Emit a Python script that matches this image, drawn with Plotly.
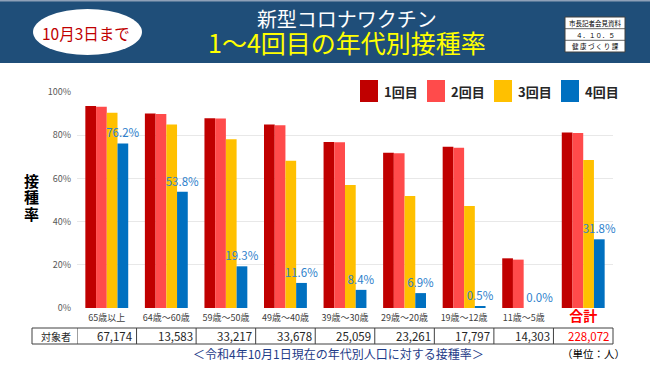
import plotly.graph_objects as go

# ---------------- data ----------------
categories = ["65歳以上", "64歳～60歳", "59歳～50歳", "49歳～40歳", "39歳～30歳",
              "29歳～20歳", "19歳～12歳", "11歳～5歳", "合計"]
series_names = ["1回目", "2回目", "3回目", "4回目"]
dose1 = [93.5, 90.1, 87.8, 84.9, 76.9, 71.9, 74.7, 23.0, 81.3]
dose2 = [93.2, 89.8, 87.7, 84.6, 76.7, 71.6, 74.2, 22.4, 81.0]
dose3 = [90.4, 84.9, 78.1, 68.2, 56.9, 51.9, 47.2, None, 68.5]
dose4 = [76.2, 53.8, 19.3, 11.6, 8.4, 6.9, 0.5, 0.0, 31.8]
population = ["67,174", "13,583", "33,217", "33,678", "25,059", "23,261", "17,797", "14,303", "228,072"]
y_ticks = [0, 20, 40, 60, 80, 100]
y_tick_labels = [f"{v}%" for v in y_ticks]

colors = ["#C00000", "#FF4B4B", "#FFC000", "#0070C0"]
FONT = "Noto Sans CJK JP"

# ---------------- geometry helpers (layout only) ----------------
W, H = 650, 365
L, R, T, B = 77, 37, 92, 57
PW, PH = W - L - R, H - T - B


def px(x):
    return (x - L) / PW


def py(y):
    return (H - B - y) / PH


fig = go.Figure()
values = [dose1, dose2, dose3, dose4]
for i, (name, vals) in enumerate(zip(series_names, values)):
    kw = {}
    if i == 3:
        kw = dict(texttemplate="%{y:.1f}%", textposition="outside", constraintext="none",
                  textfont=dict(color="#2E7FCC", size=11.5, family=FONT),
                  cliponaxis=False)
    fig.add_trace(go.Bar(x=list(range(len(categories))), y=vals, name=name, showlegend=False,
                         marker=dict(color=colors[i], line=dict(width=0)), **kw))

ticktext = [c for c in categories[:-1]] + [
    "<span style='color:#FF0000;font-size:14px;font-weight:bold'>" + categories[-1] + "</span>"]

fig.update_layout(
    width=W, height=H,
    margin=dict(l=L, r=R, t=T, b=B, pad=0),
    paper_bgcolor="white", plot_bgcolor="white",
    barmode="group", bargap=0.28, bargroupgap=0,
    font=dict(family=FONT, color="#404040"),
    showlegend=False,
    xaxis=dict(range=[-0.5, len(categories) - 0.5], tickmode="array",
               tickvals=list(range(len(categories))), ticktext=ticktext,
               tickfont=dict(size=9, color="#404040", family=FONT), ticklabelstandoff=3,
               showgrid=False, zeroline=False, showline=False, ticks=""),
    yaxis=dict(range=[0, 100], tickmode="array", tickvals=y_ticks, ticktext=y_tick_labels,
               tickfont=dict(size=9, color="#595959", family=FONT),
               showgrid=True, gridcolor="#E8E8E8", gridwidth=1,
               zeroline=False, showline=False, ticks="", ticklabelstandoff=5),
)

shapes = []
ann = []


def note(text, x, y, size, color, xref="paper", **extra):
    d = dict(text=text, xref=xref, yref="paper", x=x, y=y, showarrow=False,
             xanchor=extra.pop("xanchor", "center"), yanchor="middle",
             font=dict(size=size, color=color, family=FONT, **extra.pop("font_extra", {})))
    d.update(extra)
    ann.append(d)


# header banner
shapes.append(dict(type="rect", xref="paper", yref="paper", x0=px(0), x1=px(W), y0=py(63), y1=py(0),
                   fillcolor="#1F4E79", line=dict(width=0), layer="below"))
shapes.append(dict(type="rect", xref="paper", yref="paper", x0=px(0), x1=px(W), y0=py(1.5), y1=py(0),
                   fillcolor="#8EA0B8", line=dict(width=0)))
# oval
shapes.append(dict(type="circle", xref="paper", yref="paper", x0=px(33), x1=px(142), y0=py(55), y1=py(9),
                   fillcolor="white", line=dict(width=0)))
note("10月3日まで", px(86), py(33), 15.5, "#C00000")
# titles (two lines in one text)
note("新型コロナワクチン<br><span style='font-size:25px;color:#FFFF00'>1～4回目の年代別接種率</span>",
     px(347), py(32), 20, "white")
# document box
shapes.append(dict(type="rect", xref="paper", yref="paper", x0=px(565), x1=px(625), y0=py(52), y1=py(17),
                   fillcolor="white", line=dict(color="#404040", width=1)))
for yy in (28.7, 40.3):
    shapes.append(dict(type="line", xref="paper", yref="paper", x0=px(565), x1=px(625), y0=py(yy), y1=py(yy),
                       line=dict(color="#404040", width=0.8)))
for txt, yy in (("市長記者会見資料", 23), ("４．１０．５", 34.5), ("健 康 づ く り 課", 46.2)):
    note(txt, px(595), py(yy), 6.5, "#000000")

# custom legend (large colour squares like the original)
for i, name in enumerate(series_names):
    x0 = 360 + 67 * i
    shapes.append(dict(type="rect", xref="paper", yref="paper", x0=px(x0), x1=px(x0 + 18),
                       y0=py(102), y1=py(80), fillcolor=colors[i], line=dict(width=0)))
    note(name, px(x0 + 22), py(91), 13, "#262626", xanchor="left", font_extra=dict(weight="bold"))

# y-axis title (three stacked characters)
for ch, yy in zip("接種率", (180, 196.5, 213)):
    note(ch, px(31), py(yy), 15, "#000000", font_extra=dict(weight="bold"))

# table
t_top, t_bot = 328, 344
t_mid = (t_top + t_bot) / 2
shapes.append(dict(type="rect", xref="paper", yref="paper", x0=px(32), x1=px(613), y0=py(t_bot), y1=py(t_top),
                   fillcolor="rgba(0,0,0,0)", line=dict(color="#404040", width=1)))
for k in range(len(categories)):
    shapes.append(dict(type="line", xref="x", yref="paper", x0=k - 0.5, x1=k - 0.5,
                       y0=py(t_bot), y1=py(t_top), line=dict(color="#404040", width=1)))
note("対象者", px(55.5), py(t_mid), 10, "#262626")
for k, p in enumerate(population):
    col = "#FF0000" if k == len(population) - 1 else "#262626"
    note(p, k + 0.5, py(t_mid), 11.5, col, xref="x", xanchor="right", xshift=-1.5)

# footnotes
note("＜令和4年10月1日現在の年代別人口に対する接種率＞", px(338), py(353.5), 12, "#1F3C88")
note("（単位：人）", px(593), py(353.5), 10.5, "#000000")

fig.update_layout(shapes=shapes, annotations=ann)
fig.write_html("out.html", config={"displayModeBar": False},
               post_script="document.body.style.margin='0';document.body.style.padding='0';")
